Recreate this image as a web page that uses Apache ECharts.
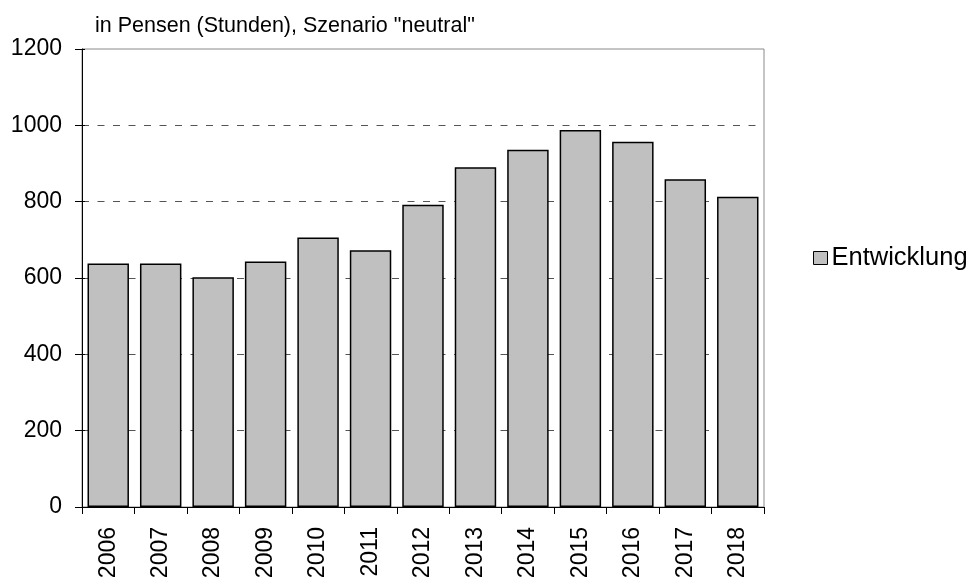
<!DOCTYPE html>
<html>
<head>
<meta charset="utf-8">
<script src="https://cdn.jsdelivr.net/npm/echarts@6/dist/echarts.min.js"></script>
<style>
  html, body { margin: 0; padding: 0; background: #fff; }
  #chart { width: 974px; height: 584px; }
</style>
</head>
<body>
<div id="chart"></div>
<script>
const years = ['2006', '2007', '2008', '2009', '2010', '2011', '2012', '2013', '2014', '2015', '2016', '2017', '2018'];
const entwicklung = [638, 638, 602, 643, 706, 673, 792, 890, 936, 988, 957, 859, 813];
const seriesName = 'Entwicklung';
const subtitle = 'in Pensen (Stunden), Szenario "neutral"';

const font = 'Liberation Sans, Arial, sans-serif';
const chart = echarts.init(document.getElementById('chart'), null, { renderer: 'canvas' });

chart.setOption({
  animation: false,
  backgroundColor: '#fff',
  title: {
    text: subtitle,
    left: 90,
    top: 10,
    textStyle: { fontFamily: font, fontSize: 21.5, fontWeight: 'normal', color: '#000' },
  },
  legend: {
    data: [seriesName],
    left: 808,
    top: 240,
    icon: 'rect',
    itemWidth: 14,
    itemHeight: 13,
    itemGap: 6,
    itemStyle: { borderColor: '#000', borderWidth: 1 },
    textStyle: { fontFamily: font, fontSize: 25.5, color: '#000', padding: [0, 0, 0, -1] },
  },
  grid: {
    left: 82, right: 210, top: 49, bottom: 77,
    show: true,
    borderColor: '#8a8a8a',
    borderWidth: 1,
  },
  xAxis: {
    type: 'category',
    data: years,
    axisLine: { lineStyle: { color: '#000', width: 1 } },
    axisTick: { show: true, length: 7, lineStyle: { color: '#000' } },
    axisLabel: {
      rotate: 90, margin: 20, interval: 0,
      fontFamily: font, fontSize: 23, color: '#000',
    },
    splitLine: { show: false },
  },
  yAxis: [{
    type: 'value',
    min: 0, max: 1200, interval: 200,
    axisLine: { show: true, lineStyle: { color: '#000', width: 1 } },
    axisTick: { show: true, length: 7, lineStyle: { color: '#000' } },
    axisLabel: {
      fontFamily: font, fontSize: 23, color: '#000', margin: 20,
      formatter: v => String(v),
    },
    splitLine: {
      show: true, showMinLine: false, showMaxLine: false,
      lineStyle: { color: '#555', type: [7, 8.5], width: 1 },
    },
  }, {
    // second copy of the left axis only to draw the inner half of the ticks
    type: 'value',
    position: 'left',
    min: 0, max: 1200, interval: 200,
    axisLine: { show: false },
    axisTick: { show: true, inside: true, length: 3, lineStyle: { color: '#000' } },
    axisLabel: { show: false },
    splitLine: { show: false },
  }],
  series: [{
    name: seriesName,
    type: 'bar',
    data: entwicklung,
    barCategoryGap: '21%',
    itemStyle: { color: '#c0c0c0', borderColor: '#000', borderWidth: 1.5 },
    emphasis: { disabled: true },
  }],
});
</script>
</body>
</html>
